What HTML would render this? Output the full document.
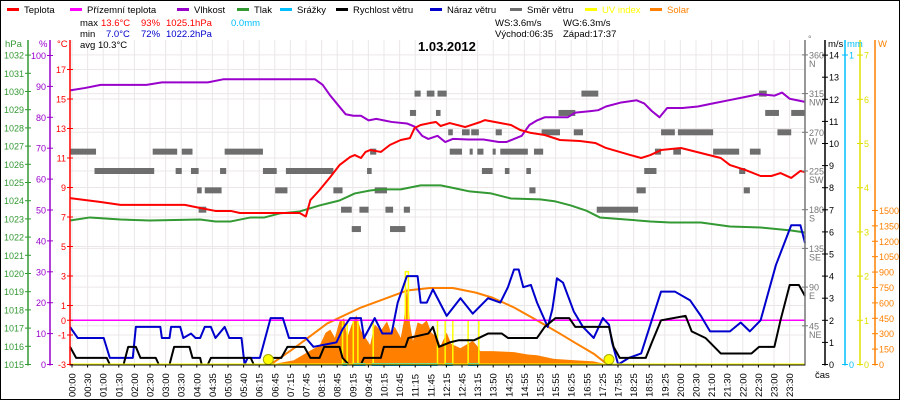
<!DOCTYPE html>
<html><head><meta charset="utf-8"><style>
html,body{margin:0;padding:0;background:#fff}
svg{display:block;font-family:"Liberation Sans",sans-serif}
</style></head><body>
<svg id="chart" width="900" height="400" viewBox="0 0 900 400" xmlns="http://www.w3.org/2000/svg">
<rect x="0.5" y="0.5" width="899" height="399" fill="#fff" stroke="#000"/>
<g id="grid"></g>
<g id="series"></g>
<g id="axes"></g>
<g id="legend"></g>
<g font-size="9.5">
<text x="80" y="26" fill="#000">max</text><text x="101" y="26" fill="#f00">13.6°C</text><text x="141" y="26" fill="#f00">93%</text><text x="166" y="26" fill="#f00">1025.1hPa</text><text x="231" y="26" fill="#00bfff">0.0mm</text>
<text x="80" y="37" fill="#000">min</text><text x="106" y="37" fill="#00c">7.0°C</text><text x="141" y="37" fill="#00c">72%</text><text x="166" y="37" fill="#00c">1022.2hPa</text>
<text x="80" y="48" fill="#000">avg 10.3°C</text>
<text x="495" y="26">WS:3.6m/s</text><text x="563" y="26">WG:6.3m/s</text>
<text x="495" y="37">Východ:06:35</text><text x="563" y="37">Západ:17:37</text>
</g>
<text x="418" y="51" font-size="13" font-weight="bold">1.03.2012</text>
</svg>
<script>
const tempT=[0,2,3.3,7.5,8.5,9.5,10.5,11.1,15,15.4,15.7,16.3,17,17.6,18.3,18.6,19,19.3,19.6,20.3,20.9,21.6,22.2,22.5,22.9,23.5,23.9,24.2,24.8,25.8,26.8,27.1,28.1,28.8,29.4,30.1,31,32,33.3,34.3,35,35.9,36.6,37.3,37.9,38.6,39.9,41.2,42.5,43.1,44.1,45.1,45.8,46.4,47.1,47.7,48];
const tempV=[8.28,8.02,7.82,7.82,7.61,7.41,7.41,7.27,7.27,7.03,8.15,8.83,9.71,10.52,11.07,11.2,11.0,11.41,11.54,11.41,11.89,12.22,12.35,13.03,13.24,13.37,13.44,13.17,13.37,13.1,13.44,13.57,13.37,13.24,12.9,12.7,12.56,12.22,12.15,12.02,11.68,11.41,11.2,11.0,11.2,11.54,11.68,11.34,11.0,10.52,10.19,9.78,9.78,9.98,9.65,10.12,10.05];
const groundT=[0,48];
const groundV=[0,0];
const humT=[0,1,2,5,6,9,10,16,16.5,17,17.5,18,18.5,19,19.5,20,21,22,22.5,23,23.4,24,24.5,25,26,27,28,28.5,29,29.5,30,30.5,31,32.5,33,34,34.5,35,36,37,37.5,38,38.5,39,40,41,42,43,44,45,46,46.5,47,48];
const humV=[88.7,89.5,90.5,90.5,91.3,91.3,92.3,92.3,90.5,87,84,81,80.5,80.5,79,79.5,78.5,78,77,74,73,74,72,73,72.8,72.8,72,72,73,74,77.5,79,80,80,81.5,82,82.3,83.5,84.8,85.5,84.5,82,80,83,83,83.5,84.5,85.5,86.5,87.5,87,88,86,85];
const presT=[0,1.3,3.3,5.2,8.5,9.5,10.5,11.8,12.7,13.7,15,16.3,17.6,18.6,19.6,20.3,21.6,22.9,24.2,25.2,26.1,27.5,28.8,30.7,31.7,32.7,33.7,34.6,36.3,37.9,39.2,41.2,43.1,45.1,47.1,48];
const presV=[1022.91,1023.08,1022.97,1022.91,1022.97,1022.86,1022.86,1023.08,1023.08,1023.30,1023.41,1023.74,1024.01,1024.40,1024.56,1024.62,1024.62,1024.84,1024.84,1024.67,1024.51,1024.40,1024.12,1024.07,1023.96,1023.74,1023.46,1023.08,1022.97,1022.86,1022.80,1022.80,1022.58,1022.53,1022.36,1022.25];
const gustT=[0,0.5,2.2,2.6,4.1,4.3,5.9,6,6.5,6.6,7.2,7.4,7.9,8.2,8.5,8.8,9.2,9.5,10.1,10.4,11.2,11.4,11.6,12.4,13.1,13.9,14.3,15.4,15.9,17.4,17.8,18.3,19,19.2,19.9,20.4,21,21.4,22,22.7,22.9,23.3,23.7,24.6,25.5,26.3,27.3,28.1,28.6,29,29.3,29.6,30.1,30.5,31.2,31.5,31.8,32.2,32.9,33.5,34.2,34.8,35.2,35.4,35.8,36.5,37.3,37.9,38.6,39.5,40.5,41.2,41.8,43.1,43.8,44.4,45.1,46.1,47.1,47.7,48];
const gustV=[1.7,1.2,1.2,0.3,0.3,1.7,1.7,1.2,1.2,1.7,1.7,1.2,1.4,1.2,1.2,1.7,1.7,1.2,1.7,1.2,1.2,0,0.3,0.3,2.1,2.1,1.2,1.2,0.8,1.0,1.6,2.1,2.1,1.2,2.1,1.4,1.4,2.8,4.0,4.0,2.8,2.8,3.4,2.2,3.0,2.3,3.0,2.8,3.5,4.3,4.3,3.5,3.6,2.8,1.7,2.5,3.9,3.7,2.4,1.7,1.2,2.1,1.8,1.0,0,0.3,0.5,1.8,3.3,3.3,2.9,2.2,1.5,1.5,1.9,1.5,2.0,4.5,6.3,6.3,5.5];
const speedT=[0,0.4,2.4,2.6,3.5,3.8,4.3,4.6,5.6,5.8,6.5,6.8,7.8,8.0,8.5,8.6,9.0,9.2,11.8,12,12.9,13.2,13.8,14.2,15.3,15.7,16.3,16.6,17.6,17.8,18.2,19.0,19.2,20.3,20.5,21.9,22.1,23.4,23.7,24.1,24.8,25.4,26.4,27.3,28.2,28.6,30.5,31.0,31.7,32.6,33.0,35.2,35.5,35.9,37.6,38,38.6,40.2,40.6,41.5,42.5,44.5,45,46,46.4,47,47.6,48];
const speedV=[0.8,0.3,0.3,0,0,0.8,0.8,0.3,0.3,0,0,0.8,0.8,0.3,0.3,0,0,0.3,0.3,0,0,0.3,0.3,0.8,0.8,0.3,0.3,0.8,0.8,0.3,0,0,0.3,0.3,0.8,0.8,1.2,1.4,1.7,0.8,1.0,1.1,1.1,1.4,1.4,1.2,1.2,1.7,2.1,2.1,1.7,1.7,0.8,0.3,0.3,1.0,2.0,2.2,1.5,1.2,0.5,0.5,0.8,0.8,2.0,3.6,3.6,3.1];
const dirStart=[0,5.4,7.3,10.1,19.6,1.6,6.9,7.9,9.8,12.6,14.1,19.4,8.3,8.8,13.4,17.2,19.9,8.4,17.7,18.9,20.6,21.8,18.4,20.9,22.5,23.3,24.0,33.4,45.0,22.2,23.9,31.9,45.4,47.1,24.7,25.6,26.2,27.8,30.8,32.9,38.6,39.7,46.2,24.8,26.1,26.6,27.6,28.1,30.3,38.2,39.4,42.0,44.4,26.9,28.4,29.8,37.5,43.7,30.0,37.0,44.0,34.4];
const dirEnd=[1.7,7.0,8.0,12.6,20.0,5.5,7.3,8.4,10.2,13.5,17.2,19.7,8.6,9.9,14.2,17.8,20.7,8.9,18.4,19.5,21.1,22.2,19.0,21.9,22.9,23.8,24.6,34.5,45.5,22.6,24.2,33.0,46.3,48,25.0,26.1,26.7,28.2,32.0,33.5,39.5,42.0,47.1,25.6,26.3,27.0,27.8,29.9,30.9,38.6,39.9,43.7,45.1,27.6,28.7,30.1,38.3,44.1,30.4,37.6,44.4,37.1];
const dirDeg=[247.5,247.5,247.5,247.5,247.5,225,225,225,225,225,225,225,202.5,202.5,202.5,202.5,202.5,180,180,180,180,180,157.5,157.5,315,315,315,315,315,292.5,292.5,292.5,292.5,292.5,270,270,270,270,270,270,270,270,270,247.5,247.5,247.5,247.5,247.5,247.5,247.5,247.5,247.5,247.5,225,225,225,225,225,202.5,202.5,202.5,180];
const solarT=[13.1,14.6,15.7,16.3,16.7,17,17.3,17.6,17.9,18.1,18.4,18.7,19,19.3,19.6,19.9,20.3,20.7,21,21.2,21.6,21.8,22,22.1,22.2,22.4,22.7,23,23.3,23.6,24,24.2,24.6,24.9,25.5,26.3,26.6,26.8,27.6,29,29.9,30.5,31.6,33.1,34.2,35.1];
const solarV=[0,40,136,185,310,340,260,420,450,260,390,480,330,260,190,390,330,420,300,370,260,420,750,600,400,230,410,390,430,310,260,180,310,200,160,230,180,130,130,120,97,90,55,40,30,0];
const solarMaxT=[13.1,14.6,16.8,19,21.1,22,23.5,25,26.5,27.6,29,30.5,32,33,34.2,35.1];
const solarMaxV=[0,155,400,555,670,720,745,745,700,650,555,430,300,210,105,0];
const uvT=[0,17.8,18.1,18.5,18.8,19.8,21.6,21.9,22.1,22.3,24.0,24.5,25.0,26.0,26.7,48];
const uvV=[0,1,0,1,0,1,1,2.1,1,1,0,1,0,1,0,0];
const rainStart=[17.8,18.5,19.7,24.5,26.0];
const rainEnd=[18.1,19.3,24.0,25.0,26.7];
const sunEvents=[12.95,35.2];
const timeLabels=["00:00","00:30","01:00","01:30","02:00","02:30","03:00","03:30","04:00","04:35","05:05","05:40","06:15","06:45","07:15","07:45","08:15","08:45","09:15","09:45","10:15","10:45","11:15","11:45","12:15","12:45","13:15","13:50","14:25","14:55","15:25","15:55","16:25","16:55","17:25","17:55","18:25","18:55","19:25","20:00","20:30","21:00","21:30","22:00","22:30","23:00","23:30"];
const hpaTicks=[1015,1016,1017,1018,1019,1020,1021,1022,1023,1024,1025,1026,1027,1028,1029,1030,1031,1032];
const humTicks=[0,10,20,30,40,50,60,70,80,90,100];
const tempTicks=[17,15,13,11,9,7,5,3,1,0,-1,-3];
const dirTicks=[360,315,270,225,180,135,90,45];
const dirNames=["N","NW","W","SW","S","SE","E","NE"];
const msTicks=[0,1,2,3,4,5,6,7,8,9,10,11,12,13,14];
const mmTicks=[0,1];
const uvTicks=[0,1,2,3,4,5,6,7];
const wTicks=[0,150,300,450,600,750,900,1050,1200,1350,1500];

const NS='http://www.w3.org/2000/svg';
const X0=70,X1=805,TOP=40,BOT=364.5;
const xs=s=>X0+s*(X1-X0)/48;
const yT=t=>BOT-14.75*(t+3);
const yH=h=>BOT-3.09*h;
const yP=p=>BOT-18.2*(p-1015);
const yV=v=>BOT-22.1*v;
const yD=d=>BOT-0.86*d;
const yUV=u=>BOT-44.2*u;
const yW=w=>BOT-0.1027*w;
const yR=m=>BOT-309.5*m;
function mk(tag,attrs,parent){const e=document.createElementNS(NS,tag);for(const k in attrs)e.setAttribute(k,attrs[k]);parent.appendChild(e);return e;}
const grid=document.getElementById('grid'),ser=document.getElementById('series'),axes=document.getElementById('axes'),leg=document.getElementById('legend');

for(let i=0;i<timeLabels.length;i++){const x=72+i*15.6;
 const l=mk('line',{x1:x,x2:x,y1:TOP,y2:BOT,stroke:'#ebe7e7','stroke-width':1},grid);
 
 const t=mk('text',{x:0,y:0,'font-size':9.5,transform:`translate(${x+3.5},397) rotate(-90)`},axes);
 t.textContent=timeLabels[i];
 
 mk('line',{x1:x,x2:x,y1:BOT,y2:BOT+3,stroke:'#000'},axes);
}
tempTicks.filter(t=>t!==0).forEach(t=>{const l=mk('line',{x1:X0,x2:X1,y1:yT(t),y2:yT(t),stroke:'#ebe7e7'},grid);
 });
dirTicks.forEach(d=>{const l=mk('line',{x1:X0,x2:X1,y1:yD(d),y2:yD(d),stroke:'#ebe7e7'},grid);
 });

let sp=`${xs(solarT[0])},${yW(0)} `+solarT.map((t,i)=>`${xs(t)},${yW(solarV[i])}`).join(' ')+` ${xs(solarT[solarT.length-1])},${yW(0)}`;
const sa=mk('polygon',{points:sp,fill:'#ff8000'},ser);

function line(T,V,f,col,w,name,step){let pts=[];for(let i=0;i<T.length;i++){if(step&&i>0)pts.push(`${xs(T[i])},${f(V[i-1])}`);pts.push(`${xs(T[i])},${f(V[i])}`);}
 const p=mk('polyline',{points:pts.join(' '),fill:'none',stroke:col,'stroke-width':w,'stroke-linejoin':'round'},ser);
 return p;}
line(solarMaxT,solarMaxV,yW,'#ff8000',2,'solar-max-line');
for(let i=0;i<dirStart.length;i++){const r=mk('rect',{x:xs(dirStart[i]),y:yD(dirDeg[i])-3,width:xs(dirEnd[i])-xs(dirStart[i]),height:6,fill:'#6e6e6e'},ser);
 }
line(uvT,uvV,yUV,'#ffff00',1.5,'uv-index-line',true);
line(groundT,groundV,yT,'#ff00ff',1.5,'ground-temperature-line');
line(presT,presV,yP,'#339933',2,'pressure-line');
line(humT,humV,yH,'#9900cc',2,'humidity-line');
line(tempT,tempV,yT,'#ff0000',2,'temperature-line');
line(gustT,gustV,yV,'#0000cc',2,'wind-gust-line');
line(speedT,speedV,yV,'#000000',2,'wind-speed-line');
for(let i=0;i<rainStart.length;i++){const r=mk('rect',{x:xs(rainStart[i]),y:yR(0)-1.5,width:xs(rainEnd[i])-xs(rainStart[i]),height:3,fill:'#00bfff'},ser);
 }
mk('line',{x1:X0,x2:X1,y1:BOT,y2:BOT,stroke:'#ffff00','stroke-width':2},ser);
sunEvents.forEach(s=>{const c=mk('circle',{cx:xs(s),cy:BOT-5,r:5,fill:'#ffff00',stroke:'#aaaa00'},ser);
 });

function vaxis(x,col,ticks,f,side,name){const g=mk('g',{},axes);
 mk('line',{x1:x,x2:x,y1:TOP,y2:BOT+1,stroke:col,'stroke-width':1.5},g);
 ticks.forEach(t=>{const y=f(t);mk('line',{x1:x-3,x2:x+3,y1:y,y2:y,stroke:col},g);
  const tx=mk('text',{x:side<0?x-4:x+4,y:y+3.5,'font-size':9,fill:col,'text-anchor':side<0?'end':'start'},g);tx.textContent=t;});
 return g;}
vaxis(28,'#339933',hpaTicks,yP,-1,'pressure-axis');
vaxis(50,'#9900cc',humTicks,yH,-1,'humidity-axis');
vaxis(70,'#ff0000',tempTicks,yT,-1,'temperature-axis');
const dg=vaxis(805,'#777777',dirTicks,yD,1,'direction-axis');
dirTicks.forEach((d,i)=>{const t=mk('text',{x:809,y:yD(d)+12,'font-size':9,fill:'#777'},dg);t.textContent=dirNames[i];});
vaxis(825,'#000000',msTicks,yV,1,'wind-speed-axis');
vaxis(845,'#00bfff',mmTicks,yR,1,'rain-axis');
vaxis(860,'#e0e000',uvTicks,yUV,1,'uv-axis');
vaxis(875,'#ff8000',wTicks,yW,1,'solar-axis');
mk('line',{x1:X0,x2:X1,y1:BOT+0.5,y2:BOT+0.5,stroke:'#000'},axes);
[['hPa',5,'#339933'],['%',39,'#9900cc'],['°C',57,'#ff0000'],['m/s',828,'#000'],['mm',847,'#00bfff'],['W',878,'#ff8000']].forEach(a=>{const t=mk('text',{x:a[1],y:47,'font-size':9.5,fill:a[2]},axes);t.textContent=a[0];
 });
const deg=mk('text',{x:808,y:42,'font-size':9,fill:'#777'},axes);deg.textContent='°';
const cas=mk('text',{x:815,y:378,'font-size':9.5},axes);cas.textContent='čas';


[['Teplota','#ff0000',7],['Přízemní teplota','#ff00ff',70],['Vlhkost','#9900cc',177],['Tlak','#339933',237],['Srážky','#00bfff',280],['Rychlost větru','#000000',336],['Náraz větru','#0000cc',430],['Směr větru','#6e6e6e',510],['UV index','#ffff00',585],['Solar','#ff8000',650]].forEach(l=>{
 const g=mk('g',{},leg);
 mk('rect',{x:l[2],y:8,width:12,height:3,fill:l[1]},g);
 const t=mk('text',{x:l[2]+17,y:13,'font-size':9.5,fill:(l[0]==='UV index'||l[0]==='Solar')?l[1]:'#000'},g);t.textContent=l[0];});
</script>
</body></html>
